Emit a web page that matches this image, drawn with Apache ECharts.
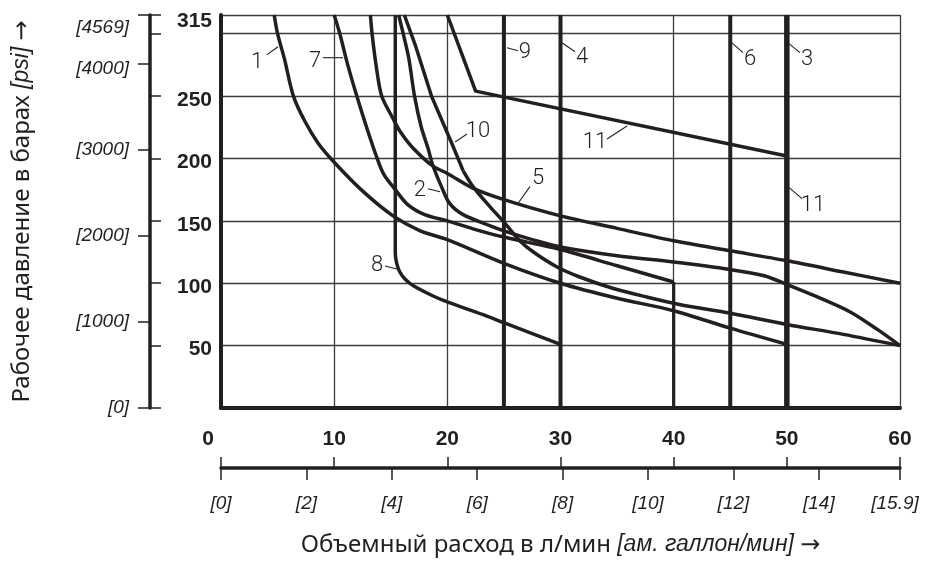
<!DOCTYPE html>
<html><head><meta charset="utf-8">
<script src="https://cdn.jsdelivr.net/npm/echarts@6/dist/echarts.min.js"></script>
<style>html,body{margin:0;padding:0;background:#fff}#c{width:930px;height:562px}</style>
</head><body><div id="c"></div>
<script>
// ---- tick labels ----
const yBarLabels = [50, 100, 150, 200, 250, 315];
const psiTicks = [0, 1000, 2000, 3000, 4000, 4569];
const galTicks = [0, 2, 4, 6, 8, 10, 12, 14, 15.9];

// ---- series values: [flow l/min, pressure bar] ----
const curve1 = [[4.7,315],[5.0,300],[5.6,280],[6.4,250],[7.4,230],[8.6,212],[10,197],[12.5,174],[15.2,154],[17.6,142],[20,135],[25,116],[30,100],[35,88],[40,78],[45,64],[50,51]];
const curve2 = [[15.7,315],[16.1,300],[16.6,280],[17.1,250],[17.7,225],[18.3,208],[18.7,195],[19.5,177],[20.2,164],[21.4,155],[23.8,146],[25,142],[27.5,135],[30,129],[35,122],[40,117],[45,111],[48,106],[50,99],[52.7,89],[55.6,77],[58,63],[60,50]];
const curve5 = [[13.2,315],[13.35,300],[13.7,275],[14.2,250],[15.2,232],[15.8,222],[16.9,209],[18.7,194],[20,188],[22.3,176],[25,167],[30,154],[35,144],[40,134],[45,126],[50,118],[55,109],[60,100]];
const curve7 = [[10,315],[10.5,300],[11.2,275],[12.0,250],[12.9,224],[13.8,200],[14.4,187],[15.4,175],[16.5,163],[18,155],[20,150],[22.5,143],[25,137],[30,127],[35,114],[40,101]];
const curve7Drop = [[40,101],[40,0]];
const curve8 = [[15.4,315],[15.4,125],[15.5,117],[15.8,109],[16.3,103],[17.0,98],[18.7,90],[20,85],[23.1,75],[25.1,68],[30,51]];
const curve10a = [[16.2,315],[17.2,290],[18.6,250],[20.4,212],[21.4,190]];
const curve10b = [[21.4,190],[22.3,177],[23.8,161],[25.1,148],[26.4,134],[27.6,125],[29.7,113],[31.7,105],[34.6,96],[37.6,89],[40.5,83],[45,76],[50,67],[55,59],[60,50]];
const curve11 = [[20,315],[22.5,254],[50,202],[50,0]];
const curve9 = [[25,0],[25,315]];
const curve4 = [[30,0],[30,315]];
const curve6 = [[45,0],[45,315]];
const curve3 = [[50,0],[50,315]];

// ---- curve number annotations (text anchor, leader from, leader to) ----
const labelNames = ['1','7','9','4','6','3','10','11','11','5','2','8'];
const labelText = [[3.18,276.8],[8.31,277.6],[26.86,284.8],[31.9,280.8],[46.75,279.2],[51.78,279.2],[22.71,221.9],[33.05,213.2],[52.31,162.3],[28.01,183.8],[17.58,174.2],[13.79,114.6]];
const leaderFrom = [[4.06,283.2],[9.01,280.8],[25.27,288.8],[30.13,292.7],[45.15,292.7],[50.1,292.7],[20.68,213.2],[34.11,215.6],[50.1,177.4],[26.24,163.9],[18.29,175.8],[14.49,113.8]];
const leaderTo = [[5.04,289.6],[10.78,280.8],[26.24,286.4],[31.28,285.6],[46.13,284.8],[51.16,284.8],[21.74,219.6],[35.88,226],[51.34,167.8],[27.3,177.4],[19.35,173.4],[15.55,111.4]];

const INK = '#231f20';
const GRIDC = '#3d3d3d';
const FONT = "'Liberation Sans', Arial, sans-serif";
const TFONT = "'Noto Sans', 'DejaVu Sans', sans-serif";

function lineSeries(name, data, width, smooth) {
  return {
    name, type: 'line', data, xAxisIndex: 0, yAxisIndex: 0,
    symbol: 'none', smooth: smooth || false, silent: true,
    lineStyle: { color: INK, width: width, cap: 'butt', join: 'round' },
    z: 5
  };
}

const chart = echarts.init(document.getElementById('c'), null, { renderer: 'canvas' });
chart.setOption({
  animation: false,
  backgroundColor: '#fff',
  grid: { left: 221, right: 30, top: 15, bottom: 151, containLabel: false },
  xAxis: [
    {
      type: 'value', min: 0, max: 60, interval: 10, position: 'bottom',
      axisLine: { show: true, onZero: false, lineStyle: { color: INK, width: 4 } },
      axisTick: { show: false },
      axisLabel: {
        margin: 21, color: INK, fontFamily: FONT, fontWeight: 'bold', fontSize: 21,
        formatter: v => v === 0 ? '{z|0}' : String(v),
        rich: { z: { fontFamily: FONT, fontWeight: 'bold', fontSize: 21, color: INK, padding: [0, 26, 0, 0] } }
      },
      splitLine: { show: true, lineStyle: { color: GRIDC, width: 1.3 } }
    },
    {
      type: 'value', min: 0, max: 60, interval: 10, position: 'bottom', offset: 60,
      axisLine: { show: true, onZero: false, lineStyle: { color: INK, width: 3.5 } },
      axisTick: { show: true, inside: true, length: 11, lineStyle: { color: INK, width: 1.5 } },
      axisLabel: { show: false },
      splitLine: { show: false }
    },
    {
      type: 'value', min: 0, max: 15.9, position: 'bottom', offset: 60,
      axisLine: { show: false, onZero: false },
      axisTick: { show: true, customValues: galTicks, length: 12, lineStyle: { color: INK, width: 1.5 } },
      axisLabel: {
        customValues: galTicks, margin: 26, color: INK, fontFamily: FONT, fontStyle: 'italic', fontSize: 19,
        formatter: v => v > 15 ? '{e|[' + v + ']}' : '[' + v + ']',
        rich: { e: { fontFamily: FONT, fontStyle: 'italic', fontSize: 19, color: INK, padding: [0, 10, 0, 0] } }
      },
      splitLine: { show: false },
      name: '{n|Объемный расход в л/мин }{i|[ам. галлон/мин]}{n| →}',
      nameLocation: 'middle', nameGap: 65,
      nameTextStyle: {
        rich: {
          n: { fontFamily: TFONT, fontSize: 24, color: INK },
          i: { fontFamily: FONT, fontSize: 23, fontStyle: 'italic', color: INK }
        }
      }
    }
  ],
  yAxis: [
    {
      type: 'value', min: 0, max: 315, interval: 50, position: 'left',
      axisLine: { show: true, onZero: false, lineStyle: { color: INK, width: 4 } },
      axisTick: { show: false },
      axisLabel: {
        margin: 9, color: INK, fontFamily: FONT, fontWeight: 'bold', fontSize: 21,
        formatter: v => yBarLabels.indexOf(v) < 0 ? '' : (v === 315 ? '{t|315}' : '{b|' + v + '}'),
        rich: {
          t: { fontFamily: FONT, fontWeight: 'bold', fontSize: 21, color: INK, padding: [12, 0, 0, 0] },
          b: { fontFamily: FONT, fontWeight: 'bold', fontSize: 21, color: INK, padding: [8, 0, 0, 0] }
        }
      },
      splitLine: { show: true, lineStyle: { color: GRIDC, width: 1.3 } }
    },
    {
      type: 'value', min: 0, max: 315, interval: 50, position: 'left', offset: 71,
      axisLine: { show: true, onZero: false, lineStyle: { color: INK, width: 3.5 } },
      axisTick: { show: true, inside: true, length: 11, lineStyle: { color: INK, width: 1.5 } },
      axisLabel: { show: false },
      splitLine: { show: false }
    },
    {
      type: 'value', min: 0, max: 4569, position: 'left', offset: 71,
      axisLine: { show: false, onZero: false },
      axisTick: { show: true, customValues: psiTicks, length: 12, lineStyle: { color: INK, width: 1.5 } },
      axisLabel: {
        customValues: psiTicks, margin: 21, color: INK, fontFamily: FONT, fontStyle: 'italic', fontSize: 19,
        formatter: v => v === 4569 ? '{a|[4569]}' : (v === 4000 ? '{c|[4000]}' : '[' + v + ']'),
        rich: {
          a: { fontFamily: FONT, fontStyle: 'italic', fontSize: 19, color: INK, padding: [26, 0, 0, 0] },
          c: { fontFamily: FONT, fontStyle: 'italic', fontSize: 19, color: INK, padding: [10, 0, 0, 0] }
        }
      },
      splitLine: { show: false },
      name: '{n|Рабочее давление в барах }{i|[psi]}{n| →}',
      nameLocation: 'middle', nameGap: 116, nameRotate: 90,
      nameTextStyle: {
        rich: {
          n: { fontFamily: TFONT, fontSize: 24, color: INK },
          i: { fontFamily: FONT, fontSize: 23, fontStyle: 'italic', color: INK }
        }
      }
    }
  ],
  series: [
    lineSeries('1', curve1, 3.5, 0.3),
    lineSeries('2', curve2, 3.5, 0.3),
    lineSeries('5', curve5, 3.5, 0.3),
    lineSeries('7', curve7, 3.5, 0.3),
    lineSeries('7 drop', curve7Drop, 3.2, false),
    lineSeries('8', curve8, 3.5, 0.3),
    lineSeries('10', curve10a, 3.5, false),
    lineSeries('10 b', curve10b, 3.5, 0.3),
    lineSeries('11', curve11, 3.5, false),
    lineSeries('9', curve9, 4, false),
    lineSeries('4', curve4, 4, false),
    lineSeries('6', curve6, 4, false),
    lineSeries('3', curve3, 5.5, false),
    {
      type: 'custom', name: 'labels', xAxisIndex: 0, yAxisIndex: 0, clip: false, silent: true, z: 10,
      data: labelText.map((p, i) => [p[0], p[1], i]),
      renderItem: function (params, api) {
        const i = api.value(2);
        const t = api.coord(labelText[i]);
        const a = api.coord(leaderFrom[i]);
        const b = api.coord(leaderTo[i]);
        return {
          type: 'group',
          children: [
            { type: 'line', shape: { x1: a[0], y1: a[1], x2: b[0], y2: b[1] }, style: { stroke: INK, lineWidth: 1.1 } },
            { type: 'text', x: t[0], y: t[1], style: { text: labelNames[i], fill: INK, fontFamily: 'Roboto, ' + FONT, fontWeight: 300, fontSize: 22, align: 'center', verticalAlign: 'middle' } }
          ]
        };
      }
    }
  ]
});
</script></body></html>
